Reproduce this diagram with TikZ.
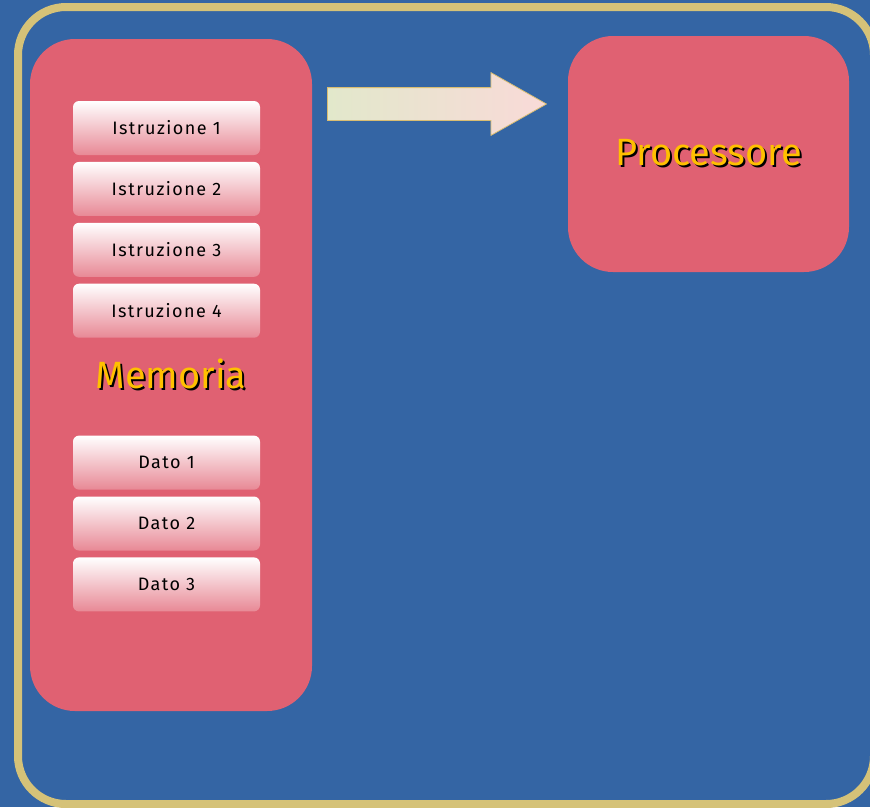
\documentclass[tikz,border=0pt]{standalone}
\usepackage{fontspec}
\setsansfont{Fira Sans}
\newfontfamily\slotfont[LetterSpace=8]{Fira Sans}
\usetikzlibrary{
  positioning,
  shapes.arrows,
}
\definecolor{deskblue}{HTML}{3465A4}
\definecolor{framegold}{HTML}{D5C278}
\definecolor{unitpink}{HTML}{E06172}
\definecolor{titlegold}{HTML}{FFC000}
\definecolor{arrowleft}{HTML}{E2E8CB}
\definecolor{arrowright}{HTML}{F9DAD8}
\definecolor{arrowedge}{HTML}{D9BD72}
\newcommand{\shadowtitle}[1]{\rlap{\kern2pt\raisebox{-2pt}{\color{black}#1}}{\color{titlegold}#1}}
\tikzset{
  unit/.style={fill=unitpink, rounded corners=45pt, inner sep=0pt},
  slot/.style={top color=white, bottom color=unitpink!75!white, rounded corners=6pt,
    minimum width=187pt, minimum height=54pt, inner sep=0pt,
    font=\slotfont\fontsize{18}{20}\selectfont},
}

\begin{document}
\begin{tikzpicture}[
        x=1pt, y=-1pt,
        title/.style={font=\sffamily\fontsize{38}{42}\selectfont},
      ]
      \clip (0,0) rectangle (870,807);
      \fill[deskblue] (0,0) rectangle (870,807);
      \draw[framegold, line width=8pt, rounded corners=48pt] (18,7) rectangle (874,804);

      \node (memoria) [unit, title, minimum width=282pt, minimum height=672pt] at (171,375) {
        \shadowtitle{Memoria}
      };
      \node (processore) [unit, title, minimum width=281pt, minimum height=236pt] at (708.5,154) {
        \shadowtitle{Processore}
      };

      \node (istr1) [slot] at (166.5,128) {Istruzione 1};
      \node (istr2) [slot, below = 6.5pt of istr1] {Istruzione 2};
      \node (istr3) [slot, below = 6.5pt of istr2] {Istruzione 3};
      \node (istr4) [slot, below = 6.5pt of istr3] {Istruzione 4};
      \node (dato1) [slot, below = 97.5pt of istr4] {Dato 1};
      \node (dato2) [slot, below = 6.5pt of dato1] {Dato 2};
      \node (dato3) [slot, below = 6.5pt of dato2] {Dato 3};

      \node (flusso) [single arrow, draw=arrowedge, line width=0.8pt,
        left color=arrowleft, right color=arrowright,
        minimum height=219pt, inner xsep=0pt, inner ysep=16pt,
        single arrow head extend=15pt, single arrow tip angle=59,
        anchor=tail] at (327,104) {};
    \end{tikzpicture}
\end{document}
